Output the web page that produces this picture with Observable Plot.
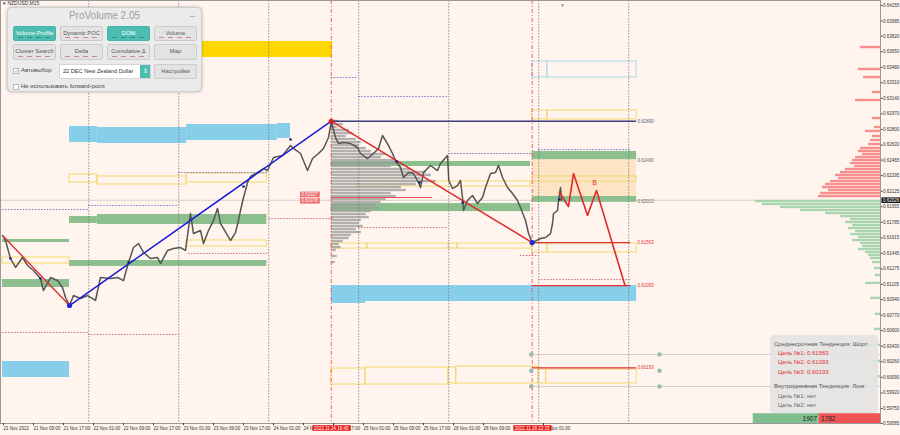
<!DOCTYPE html>
<html><head><meta charset="utf-8">
<script src="https://cdn.jsdelivr.net/npm/d3@7"></script>
<script src="https://cdn.jsdelivr.net/npm/@observablehq/plot@0.6"></script>
<style>
body{margin:0;background:#fff5ee;font-family:"Liberation Sans",Arial,sans-serif;}
#wrap{position:relative;width:900px;height:435px;overflow:hidden;}
#sym{position:absolute;left:3px;top:0px;font-size:5px;color:#333;}
#panel{position:absolute;left:7px;top:7px;width:195px;height:85px;background:#ebebeb;border:1px solid #d0d0d0;border-radius:5px;box-shadow:0 0 3px rgba(0,0,0,.3);box-sizing:border-box;}
.ttl{position:absolute;left:0;right:0;top:2px;text-align:center;font-size:10px;color:#a0a0a0;}
.min{position:absolute;right:6px;top:-1px;font-size:9px;color:#999;}
.btn{position:absolute;width:43px;height:15px;border-radius:2px;background:#e3e3e3;border:1px solid #cbcbcb;box-sizing:border-box;font-size:5.8px;color:#555;text-align:center;line-height:12px;white-space:nowrap;overflow:hidden;}
.btn.on{background:#4dbdb1;color:#fff;border-color:#46b1a6;}
.btn i{position:absolute;left:4px;right:4px;bottom:2px;height:1px;background:repeating-linear-gradient(90deg,#c88 0 5px,transparent 5px 9px);}
.btn.on i{background:repeating-linear-gradient(90deg,#2f8f86 0 5px,transparent 5px 9px);}
.cb{position:absolute;width:6px;height:6px;background:#fff;border:1px solid #bbb;box-sizing:border-box;font-size:6px;line-height:5px;color:#4dbdb1;}
.lbl{position:absolute;font-size:6px;color:#444;white-space:nowrap;}
#dd{position:absolute;left:51px;top:56px;width:92px;height:15px;background:#fff;border:1px solid #d6d6d6;box-sizing:border-box;font-size:5.6px;color:#333;line-height:13px;padding-left:3px;white-space:nowrap;}
#dd b{position:absolute;right:0;top:0;width:10px;height:13px;background:#4dbdb1;color:#fff;font-size:6px;text-align:center;font-weight:normal;}
#leg{position:absolute;left:770px;top:335px;width:108px;height:78px;background:rgba(226,226,226,0.88);border-radius:3px;font-size:6px;}
#leg div{position:absolute;white-space:nowrap;line-height:8px;}
</style></head><body>
<div id="wrap">
<div id="chart"></div>
<div id="sym">▾ NZDUSD,M15</div>
<div id="panel">
  <div class="ttl">ProVolume 2.05</div><div class="min">_</div>
  <div class="btn on" style="left:5px;top:18px">Volume Profile<i></i></div>
  <div class="btn" style="left:52px;top:18px">Dynamic POC<i></i></div>
  <div class="btn on" style="left:99px;top:18px">DOM<i></i></div>
  <div class="btn" style="left:146px;top:18px">Volume<i></i></div>
  <div class="btn" style="left:5px;top:36px;height:16px">Cluster Search<i></i></div>
  <div class="btn" style="left:52px;top:36px;height:16px">Delta<i></i></div>
  <div class="btn" style="left:99px;top:36px;height:16px">Cumulative Δ<i></i></div>
  <div class="btn" style="left:146px;top:36px;height:16px">Map</div>
  <div class="cb" style="left:5px;top:60px">✓</div>
  <div class="lbl" style="left:13px;top:59px">Автовыбор</div>
  <div id="dd">22 DEC New Zealand Dollar<b>⇕</b></div>
  <div class="btn" style="left:146px;top:56px;line-height:13px">Настройки</div>
  <div class="cb" style="left:5px;top:76px"></div>
  <div class="lbl" style="left:13px;top:75px">Не использовать forward-point</div>
</div>
<div id="leg">
  <div style="left:4px;top:5px;color:#555">Среднесрочная Тенденция: Шорт</div>
  <div style="left:8px;top:14px;color:#e03030">Цель №1: 0.61563</div>
  <div style="left:8px;top:23px;color:#e03030">Цель №2: 0.61093</div>
  <div style="left:8px;top:33px;color:#e03030">Цель №3: 0.60193</div>
  <div style="left:4px;top:47px;color:#555">Внутридневная Тенденция: Лонг</div>
  <div style="left:8px;top:57px;color:#666">Цель №1: нет</div>
  <div style="left:8px;top:66px;color:#666">Цель №2: нет</div>
</div>
</div>
<script>
// x = trading hours since 21 Nov 2022 00:00 (weekend removed), y = price
const xDomain = [0.467, 235.13];
const yDomain = [0.59585, 0.64210];

const yTicks = [0.64155,0.63985,0.63820,0.63650,0.63480,0.63310,0.63140,0.62970,0.62800,0.62630,0.62465,0.62295,0.62125,0.61955,0.61785,0.61615,0.61445,0.61275,0.61105,0.60940,0.60770,0.60600,0.60430,0.60260,0.60090,0.59920,0.59750,0.59585];
const xTickHours = [1,9,17,25,33,41,49,57,65,73,81,89,97,105,113,121,129,145];
const xTickLabels = ["21 Nov 2022","21 Nov 09:00","21 Nov 17:00","22 Nov 01:00","22 Nov 09:00","22 Nov 17:00","23 Nov 01:00","23 Nov 09:00","23 Nov 17:00","24 Nov 01:00","24 Nov 09:00","24 Nov 17:00","25 Nov 01:00","25 Nov 09:00","25 Nov 17:00","28 Nov 01:00","28 Nov 09:00","29 Nov 01:00"];
const daySeparators = [24,48,72,96,120,144,168];
const markerTimes = [88.67,142.25];
const markerLabels = ["2022.11.24 16:40","2022.11.28 22:15"];
const currentPrice = 0.62026;

const pricePath = [[1.0,0.61641],[1.8,0.61586],[3.13,0.61389],[4.47,0.61291],[6.33,0.61400],[7.67,0.61313],[9.27,0.61258],[11.13,0.61170],[11.93,0.61039],[13.8,0.61181],[15.67,0.61148],[17.0,0.61072],[17.8,0.60963],[18.87,0.60875],[19.93,0.60984],[21.8,0.60952],[23.67,0.60984],[25.8,0.60930],[27.13,0.61181],[29.8,0.61170],[31.67,0.61181],[33.27,0.61148],[34.6,0.61345],[35.93,0.61509],[37.27,0.61553],[38.6,0.61455],[40.47,0.61389],[42.33,0.61400],[43.13,0.61334],[45.0,0.61477],[46.6,0.61498],[48.47,0.61509],[49.8,0.61477],[51.13,0.61881],[51.93,0.61662],[53.8,0.61695],[54.6,0.61553],[55.93,0.61695],[57.27,0.61805],[58.33,0.61936],[59.13,0.61772],[61.0,0.61641],[61.8,0.61586],[63.13,0.61673],[63.93,0.61805],[64.47,0.61914],[65.27,0.62056],[65.8,0.62133],[66.33,0.62220],[67.13,0.62286],[68.93,0.62329],[70.6,0.62373],[71.67,0.62351],[73.27,0.62493],[75.67,0.62515],[77.8,0.62625],[78.6,0.62592],[80.47,0.62537],[82.33,0.62351],[83.67,0.62482],[85.27,0.62537],[86.6,0.62592],[87.93,0.62712],[88.67,0.62887],[89.8,0.62712],[90.6,0.62646],[91.93,0.62657],[93.8,0.62646],[95.67,0.62603],[96.47,0.62537],[98.33,0.62482],[99.93,0.62537],[101.27,0.62592],[102.33,0.62734],[103.67,0.62646],[105.0,0.62537],[105.8,0.62461],[107.13,0.62384],[107.93,0.62275],[109.27,0.62329],[110.6,0.62318],[111.93,0.62220],[112.47,0.62165],[113.27,0.62329],[115.13,0.62406],[117.0,0.62351],[117.8,0.62428],[119.67,0.62515],[120.0,0.62242],[121.0,0.62154],[122.33,0.62187],[123.13,0.62242],[123.67,0.62056],[123.93,0.61914],[125.0,0.62023],[126.33,0.62078],[127.67,0.61990],[129.0,0.62056],[129.8,0.62165],[131.13,0.62318],[132.47,0.62329],[133.27,0.62406],[134.33,0.62275],[135.67,0.62165],[137.0,0.62100],[138.33,0.62023],[139.13,0.61947],[140.47,0.61805],[141.27,0.61662],[142.25,0.61563],[144.47,0.61608],[145.8,0.61619],[147.13,0.61662],[147.67,0.61772],[147.93,0.61881],[149.0,0.61914],[149.27,0.62023],[149.8,0.62165],[150.07,0.62026]];

// zones: [h1, h2, priceTop, priceBottom]
const goldZones = [[18.87,89.0,0.63762,0.63587]];
const blueZones = [[18.87,26.3,0.62832,0.62657],[26.3,50.1,0.62821,0.62646],[50.1,74.3,0.62854,0.62679],[74.3,77.8,0.62865,0.62701],[1,18.87,0.60263,0.60088],[88.67,97.8,0.61093,0.60897],[97.8,170.1,0.61093,0.60919]];
const greenZones = [[1,18.87,0.61597,0.61564],[1,18.87,0.61159,0.61072],[18.87,26.3,0.61848,0.61772],[26.3,71.5,0.61870,0.61761],[18.87,71.5,0.61367,0.61302],[88.67,141.8,0.62450,0.62395],[88.67,141.8,0.61990,0.61902],[142.25,170.1,0.62560,0.62470],[142.25,170.1,0.62067,0.62003]];
const beigeZones = [[142.25,170.1,0.62470,0.62067]];
const yellowBoxes = [[1,18.87,0.61400,0.61334],[18.87,26.3,0.62307,0.62220],[26.3,50.1,0.62286,0.62198],[50.1,71.5,0.62318,0.62220],[50.1,71.5,0.61586,0.61520],[95.9,141.8,0.62231,0.62176],[88.67,98.3,0.61553,0.61498],[98.3,120,0.61553,0.61498],[120,122.3,0.61553,0.61498],[122.3,141.8,0.61553,0.61498],[142.25,146.3,0.61553,0.61455],[146.3,170.1,0.61553,0.61455],[142.25,170.1,0.62286,0.62231],[142.25,146.3,0.63007,0.62909],[146.3,170.1,0.63007,0.62909],[88.67,97.8,0.60186,0.60011],[97.8,119.9,0.60197,0.60011],[119.9,122,0.60197,0.60022],[122,143.9,0.60208,0.60022],[143.9,146,0.60175,0.60022],[146,170.1,0.60175,0.60022]];
const lightBlueBoxes = [[142.25,146.3,0.63543,0.63368],[146.3,170.1,0.63543,0.63368]];

// horizontal segments: [h1, h2, price]
const navyDotted = [[1,24,0.61925],[24,47.7,0.61969],[48,71.7,0.62329],[88.67,96,0.63368],[96,120,0.63160],[120,142.25,0.62537],[144,168.5,0.62581]];
const redDotted = [[1,23.9,0.60580],[23.9,48.2,0.60558],[50.6,71.7,0.61444],[72,89.3,0.61826],[95.9,119.7,0.61728],[139.1,144,0.61422],[144,168.5,0.61159]];
const grayLevels = [[142,235.13,0.60339],[142,235.13,0.59990]];
const levelDots = [[142,0.60339],[176.2,0.60339],[210.9,0.60339],[142,0.60162],[176.2,0.60162],[210.9,0.60162],[142,0.59990],[176.2,0.59990],[210.9,0.59990]];
const targetLines = [[142.25,168.5,0.61563],[142.25,168.5,0.61093],[142.25,170.1,0.60193]];
const highLine = [[88.67,170.1,0.62890]];
const pocLine = [[88.67,115.6,0.62056]];
const lineLabels = [[0.62890,"0.62890","#5a5a8c"],[0.62460,"0.62460","#666"],[0.62013,"0.62013","#666"],[0.61563,"0.61563","#e03030"],[0.61093,"0.61093","#e03030"],[0.60193,"0.60193","#e03030"]];

const trendRed1 = [[1.27,0.61630],[18.87,0.60875]];
const trendBlue = [[18.87,0.60875],[88.67,0.62890]];
const trendRed2 = [[88.67,0.62890],[142.25,0.61563]];
const forecast = [[149.53,0.62111],[151.93,0.61958],[153.27,0.62318],[157.0,0.61859],[159.4,0.62133],[167.0,0.61093]];
const swingDots = [[3.13,0.61389],[11.13,0.61170],[34.6,0.61345],[65.27,0.62176],[77.8,0.62690],[106.1,0.62450],[112.2,0.62220],[123.7,0.62001],[149.5,0.62034]];
const blueDots = [[18.87,0.60875],[142.25,0.61563]];
const redDots = [[88.67,0.62890]];
const profileTags = [[82.9,0.62089,"0.62027"],[82.9,0.62020,"0.61978"]];

// volume profile from 24 Nov 16:40: [price, volume]
const profileStart = 88.67;
const profile = [[0.62887,8],[0.62854,12],[0.62821,6],[0.62789,18],[0.62756,22],[0.62723,15],[0.62690,25],[0.62657,30],[0.62625,28],[0.62592,35],[0.62559,40],[0.62526,55],[0.62493,50],[0.62461,65],[0.62428,70],[0.62395,60],[0.62362,80],[0.62329,95],[0.62297,100],[0.62264,90],[0.62231,105],[0.62198,85],[0.62165,70],[0.62133,75],[0.62100,60],[0.62067,65],[0.62034,55],[0.62001,50],[0.61969,45],[0.61936,48],[0.61903,40],[0.61870,35],[0.61837,38],[0.61805,30],[0.61772,28],[0.61739,32],[0.61706,25],[0.61673,30],[0.61641,20],[0.61608,18],[0.61575,12],[0.61542,8],[0.61509,10],[0.61477,5],[0.61411,6],[0.61345,4]];
// DOM (asks above, bids below current price): [price, volume]
const domAsks = [[0.63696,20],[0.63456,22],[0.63368,17],[0.63204,8],[0.63117,25],[0.62920,8],[0.62821,6],[0.62778,15],[0.62723,8],[0.62679,10],[0.62635,12],[0.62592,20],[0.62559,22],[0.62526,18],[0.62493,25],[0.62461,28],[0.62428,30],[0.62395,26],[0.62362,35],[0.62329,40],[0.62297,45],[0.62264,42],[0.62231,50],[0.62198,55],[0.62165,58],[0.62133,52],[0.62100,60],[0.62067,62]];
const domBids = [[0.62012,125],[0.61980,118],[0.61947,100],[0.61914,80],[0.61881,55],[0.61848,40],[0.61815,30],[0.61783,35],[0.61750,28],[0.61717,32],[0.61684,25],[0.61651,30],[0.61619,22],[0.61586,28],[0.61553,20],[0.61520,18],[0.61487,22],[0.61455,15],[0.61422,12],[0.61389,10],[0.61345,8],[0.61280,6],[0.61204,5],[0.61117,15],[0.60953,10],[0.60778,5],[0.60614,6],[0.60439,20],[0.60263,8],[0.60096,6]];
const bidTotal = 1907, askTotal = 1782;

const volToHours = 1/3.75;
const half = 0.00013;
const xEnd = xDomain[1];
const totalToHours = 0.0092;
const barTop = 0.59692;
const askStart = xEnd - askTotal*totalToHours;
const bidStart = askStart - bidTotal*totalToHours;
const barMid = (barTop + yDomain[0]) / 2;

const seg = (data, opts) => Plot.ruleY(data, {x1: d=>d[0], x2: d=>d[1], y: d=>d[2], ...opts});
const zone = (data, opts) => Plot.rect(data, {x1: d=>d[0], x2: d=>d[1], y1: d=>d[3], y2: d=>d[2], ...opts});
const labelOf = Object.fromEntries(xTickHours.map((h,i)=>[h, xTickLabels[i]]));

const chart = Plot.plot({
  width: 900, height: 435,
  marginLeft: 0, marginRight: 20, marginTop: 0, marginBottom: 12,
  style: {background: "#fff5ee", fontFamily: "Liberation Sans, Arial, sans-serif", fontSize: "4.5px", color: "#333"},
  x: {domain: xDomain, axis: null},
  y: {domain: yDomain, axis: null},
  marks: [
    Plot.ruleY([currentPrice], {stroke: "#c9c4c0", strokeWidth: 0.8}),
    zone(goldZones, {fill: "#ffd700"}),
    zone(blueZones, {fill: "#87ceeb"}),
    zone(beigeZones, {fill: "#fce4c4"}),
    zone(greenZones, {fill: "#8cbf8e"}),
    zone(yellowBoxes, {fill: "none", stroke: "#f3d96a", strokeWidth: 1}),
    zone(lightBlueBoxes, {fill: "none", stroke: "#add8e6", strokeWidth: 1}),
    Plot.rect(profile, {x1: profileStart, x2: d=>profileStart + d[1]*volToHours, y1: d=>d[0]-half, y2: d=>d[0]+half, fill: "#9a9a9a", fillOpacity: 0.75}),
    seg(pocLine, {stroke: "#e05050", strokeWidth: 1}),
    Plot.rect(domAsks, {x1: d=>xEnd - d[1]*volToHours, x2: xEnd, y1: d=>d[0]-half, y2: d=>d[0]+half, fill: "#f77b7b", fillOpacity: 0.85}),
    Plot.rect(domBids, {x1: d=>xEnd - d[1]*volToHours, x2: xEnd, y1: d=>d[0]-half, y2: d=>d[0]+half, fill: "#9fd1a9", fillOpacity: 0.9}),
    seg(navyDotted, {stroke: "#5555c0", strokeWidth: 0.8, strokeDasharray: "1.5,1.5"}),
    seg(redDotted, {stroke: "#c85050", strokeWidth: 0.8, strokeDasharray: "1.5,1.5"}),
    seg(grayLevels, {stroke: "#d0cdca", strokeWidth: 1}),
    Plot.ruleX(daySeparators, {stroke: "#777", strokeWidth: 0.8, strokeDasharray: "1.5,1.5"}),
    Plot.ruleX(markerTimes, {stroke: "#ee5555", strokeWidth: 0.9, strokeDasharray: "4,2,1,2"}),
    Plot.line(pricePath, {x: d=>d[0], y: d=>d[1], stroke: "#555", strokeWidth: 1.5}),
    Plot.line(trendRed1, {x: d=>d[0], y: d=>d[1], stroke: "#dd2a2a", strokeWidth: 1.3}),
    Plot.line(trendBlue, {x: d=>d[0], y: d=>d[1], stroke: "#1c1cd6", strokeWidth: 1.5}),
    Plot.line(trendRed2, {x: d=>d[0], y: d=>d[1], stroke: "#dd2a2a", strokeWidth: 1.5}),
    Plot.line(forecast, {x: d=>d[0], y: d=>d[1], stroke: "#e02a2a", strokeWidth: 1.6}),
    seg(targetLines, {stroke: "#e03030", strokeWidth: 1.3}),
    seg(highLine, {stroke: "#3a3a7c", strokeWidth: 1.3}),
    Plot.dot(levelDots, {x: d=>d[0], y: d=>d[1], r: 2.3, fill: "#9bb9b2"}),
    Plot.dot(swingDots, {x: d=>d[0], y: d=>d[1], r: 1.3, fill: "#1c1c80"}),
    Plot.dot(blueDots, {x: d=>d[0], y: d=>d[1], r: 2.6, fill: "#2626e0"}),
    Plot.dot(redDots, {x: d=>d[0], y: d=>d[1], r: 2.6, fill: "#e02020"}),
    Plot.text(["B"], {x: 158.9, y: 0.62220, text: d=>d, fill: "#e03030", fontSize: 7}),
    Plot.text(lineLabels, {x: 170.3, y: d=>d[0], text: d=>d[1], fill: d=>d[2], textAnchor: "start", fontSize: 4.5}),
    Plot.text(profileTags, {x: d=>d[0], y: d=>d[1], text: d=>d[2], fill: "white", fontSize: 4.5}),
    Plot.rect([bidTotal], {x1: bidStart, x2: askStart, y1: yDomain[0], y2: barTop, fill: "#7fbf8f"}),
    Plot.rect([askTotal], {x1: askStart, x2: xEnd, y1: yDomain[0], y2: barTop, fill: "#f05555"}),
    Plot.text([bidTotal], {x: askStart, y: barMid, text: d=>String(d), textAnchor: "end", dx: -2, fill: "#222", fontSize: 6.5}),
    Plot.text([askTotal], {x: askStart, y: barMid, text: d=>String(d), textAnchor: "start", dx: 2, fill: "#222", fontSize: 6.5}),
    Plot.ruleY([yDomain[0]], {stroke: "#555", strokeWidth: 1}),
    Plot.ruleX([xEnd], {stroke: "#222", strokeWidth: 1}),
    Plot.frame({stroke: "#999"}),
    Plot.axisY({anchor: "right", ticks: yTicks, tickFormat: d3.format(".5f"), tickSize: 1.5, tickPadding: 1, fontSize: 4.5, stroke: "#333"}),
    Plot.axisX({anchor: "bottom", ticks: xTickHours, tickFormat: d=>labelOf[d], tickSize: 2, tickPadding: 1.5, textAnchor: "start", dx: 1, fontSize: 4.5, stroke: "#333"}),
    Plot.text([currentPrice], {x: xEnd, y: d=>d, text: d=>d3.format(".5f")(d), textAnchor: "start", dx: 2.5, fill: "white", fontSize: 4.5}),
    Plot.text(markerTimes, {x: d=>d, frameAnchor: "bottom", dy: 6, text: (d,i)=>markerLabels[i], fill: "white", fontSize: 4.5}),
    Plot.text(["▼"], {x: 150.3, frameAnchor: "top", dy: 3, text: d=>d, fill: "#8a8a8a", fontSize: 5})
  ]
});
document.getElementById("chart").appendChild(chart);

// draw coloured boxes behind the white tag texts
const priceTag = d3.format(".5f")(currentPrice);
d3.select(chart).selectAll('g[fill="white"] text').each(function() {
  const t = this.textContent;
  const fill = markerLabels.includes(t) ? "#e81818" : t === priceTag ? "#111" : "#ee6b6b";
  const b = this.getBBox();
  const node = this;
  d3.select(this.parentNode).insert("rect", () => node)
    .attr("x", b.x - 1.5).attr("y", b.y - 0.3)
    .attr("width", b.width + 3).attr("height", b.height + 0.6)
    .attr("transform", this.getAttribute("transform"))
    .attr("fill", fill);
});
</script>
</body></html>
